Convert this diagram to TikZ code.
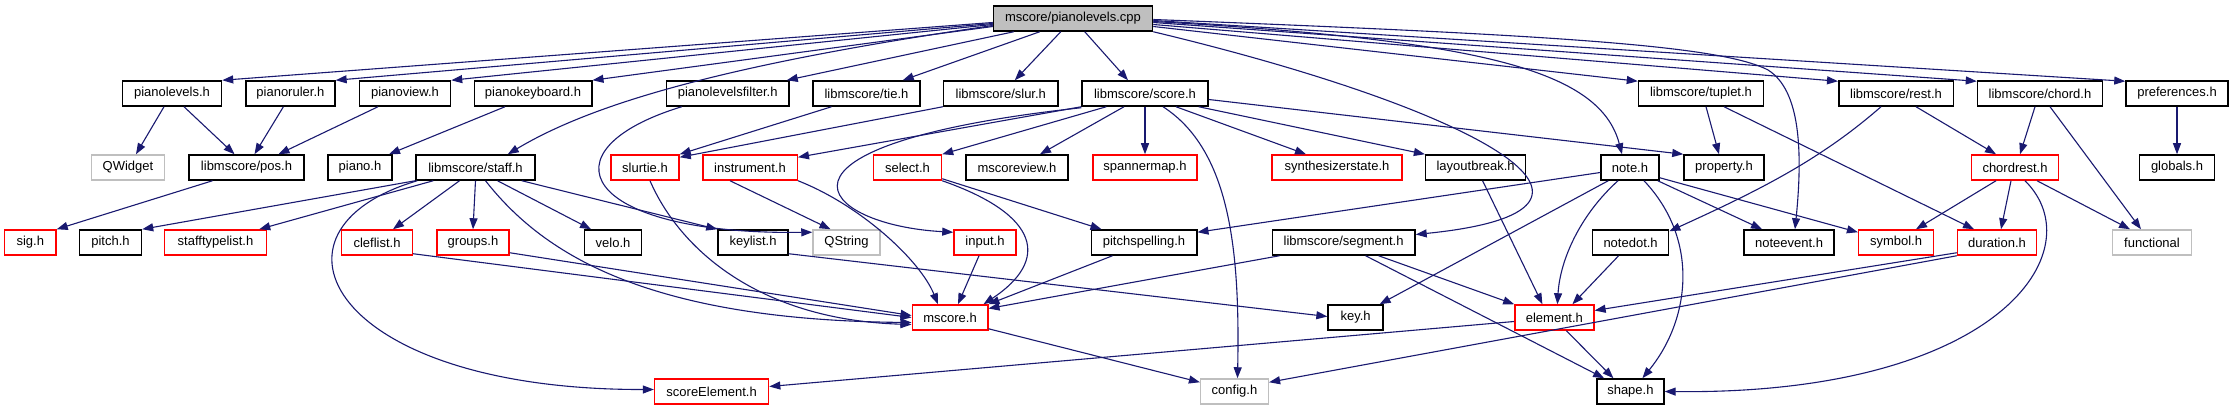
\documentclass[tikz,border=0pt]{standalone}
\usepackage{fontspec}
\setmainfont{Liberation Sans}
\usetikzlibrary{arrows.meta}
\definecolor{edgec}{HTML}{191970}
\definecolor{grayc}{HTML}{BFBFBF}
\definecolor{redc}{HTML}{FF0000}
\begin{document}
\begin{tikzpicture}[x=1pt,y=-1pt,
 box/.style={draw=black, line width=1.5pt, fill=white, minimum height=25pt, inner sep=0pt, font=\fontsize{13pt}{15pt}\selectfont, text=black},
 rbox/.style={box, draw=redc},
 gbox/.style={box, draw=grayc},
 rootbox/.style={box, fill=grayc},
 edg/.style={draw=edgec, line width=1.1pt, -{Triangle[length=11pt,width=8pt]}}]
\fill[white] (0,0) rectangle (2233,411);
\useasboundingbox (0,0) rectangle (2233,411);
% row 0
\node[rootbox, minimum width=159pt] (cpp) at (1073,18.5) {mscore/pianolevels.cpp};
% row 1
\node[box, minimum width=99pt] (plevels) at (172,93.5) {pianolevels.h};
\node[box, minimum width=89pt] (pruler) at (290.4,93.5) {pianoruler.h};
\node[box, minimum width=91pt] (pview) at (405,93.5) {pianoview.h};
\node[box, minimum width=117.5pt] (pkbd) at (533,93.5) {pianokeyboard.h};
\node[box, minimum width=122.6pt] (pfilter) at (727.7,93.5) {pianolevelsfilter.h};
\node[box, minimum width=107pt] (tie) at (866.5,93.5) {libmscore/tie.h};
\node[box, minimum width=114.4pt] (slur) at (1000.8,93.5) {libmscore/slur.h};
\node[box, minimum width=126pt] (score) at (1145,93.5) {libmscore/score.h};
\node[box, minimum width=125pt] (tuplet) at (1701,93.5) {libmscore/tuplet.h};
\node[box, minimum width=114.5pt] (rest) at (1896,93.5) {libmscore/rest.h};
\node[box, minimum width=125pt] (chord) at (2040,93.5) {libmscore/chord.h};
\node[box, minimum width=102pt] (prefs) at (2177,93.5) {preferences.h};
% row 2
\node[gbox, minimum width=73pt] (qwidget) at (128,167.5) {QWidget};
\node[box, minimum width=115pt] (pos) at (246.5,167.5) {libmscore/pos.h};
\node[box, minimum width=64pt] (piano) at (360,167.5) {piano.h};
\node[box, minimum width=119pt] (staff) at (475.5,167.5) {libmscore/staff.h};
\node[rbox, minimum width=68pt] (slurtie) at (645,167.5) {slurtie.h};
\node[rbox, minimum width=94.5pt] (instr) at (750,167.5) {instrument.h};
\node[rbox, minimum width=68pt] (select) at (907.5,167.5) {select.h};
\node[box, minimum width=102pt] (mview) at (1017,167.5) {mscoreview.h};
\node[rbox, minimum width=104pt] (spanner) at (1145,167.5) {spannermap.h};
\node[rbox, minimum width=130pt] (synth) at (1337,167.5) {synthesizerstate.h};
\node[box, minimum width=100pt] (layout) at (1475.6,167.5) {layoutbreak.h};
\node[box, minimum width=58pt] (note) at (1630,167.5) {note.h};
\node[box, minimum width=80pt] (property) at (1724,167.5) {property.h};
\node[rbox, minimum width=87pt] (chordrest) at (2015,167.5) {chordrest.h};
\node[box, minimum width=75pt] (globals) at (2177,167.5) {globals.h};
% row 3
\node[rbox, minimum width=51.4pt] (sig) at (30.3,242.5) {sig.h};
\node[box, minimum width=62pt] (pitch) at (110.5,242.5) {pitch.h};
\node[rbox, minimum width=102pt] (stl) at (215.5,242.5) {stafftypelist.h};
\node[rbox, minimum width=70.7pt] (clef) at (377,242.5) {cleflist.h};
\node[rbox, minimum width=72pt] (groups) at (473,242.5) {groups.h};
\node[box, minimum width=57pt] (velo) at (613,242.5) {velo.h};
\node[box, minimum width=70pt] (keylist) at (753,242.5) {keylist.h};
\node[gbox, minimum width=67pt] (qstring) at (846.5,242.5) {QString};
\node[rbox, minimum width=62pt] (input) at (985,242.5) {input.h};
\node[box, minimum width=105.5pt] (pspell) at (1144,242.5) {pitchspelling.h};
\node[box, minimum width=142.7pt] (segment) at (1343.6,242.5) {libmscore/segment.h};
\node[box, minimum width=76pt] (notedot) at (1630.6,242.5) {notedot.h};
\node[box, minimum width=90pt] (noteevent) at (1789,242.5) {noteevent.h};
\node[rbox, minimum width=74.7pt] (symbol) at (1896,242.5) {symbol.h};
\node[rbox, minimum width=79pt] (duration) at (1997,242.5) {duration.h};
\node[gbox, minimum width=79pt] (functional) at (2152,242.5) {functional};
% row 4
\node[rbox, minimum width=75.5pt] (mscore) at (950,317.5) {mscore.h};
\node[box, minimum width=55pt] (key) at (1355.6,317.5) {key.h};
\node[rbox, minimum width=79pt] (element) at (1554.4,317.5) {element.h};
% row 5
\node[rbox, minimum width=114pt] (scoreel) at (711.6,391.5) {scoreElement.h};
\node[gbox, minimum width=67.7pt] (config) at (1234.5,391.5) {config.h};
\node[box, minimum width=67pt] (shape) at (1630.4,391.5) {shape.h};

% edges from cpp
\draw[edg] ([yshift=-4pt]cpp.west) -- (plevels.north east);
\draw[edg] ([yshift=-5pt]cpp.west) -- (pruler.north east);
\draw[edg] ([yshift=-6pt]cpp.west) -- (pview.north east);
\draw[edg] ([yshift=-8pt]cpp.west) -- (pkbd.north east);
\draw[edg] ([yshift=-7pt]cpp.west) .. controls (720,65) and (590,105) .. ([xshift=-28pt]staff.north east);
\draw[edg] ([xshift=21pt]cpp.south west) -- ([xshift=-3pt]pfilter.north east);
\draw[edg] ([xshift=47pt]cpp.south west) -- ([xshift=-18pt]tie.north east);
\draw[edg] ([xshift=68pt]cpp.south west) -- ([xshift=14pt]slur.north);
\draw[edg] ([xshift=92pt]cpp.south west) -- ([xshift=-17pt]score.north);
\draw[edg] (cpp.south east) .. controls (1480,110) and (1660,210) .. ([yshift=8pt]segment.east);
\draw[edg] ([yshift=-3pt]cpp.east) .. controls (1480,40) and (1600,70) .. ([xshift=-8pt]note.north);
\draw[edg] ([yshift=-1pt]cpp.east) .. controls (1550,35) and (1720,45) .. (1768,70) .. controls (1800,90) and (1803,150) .. ([xshift=6pt]noteevent.north);
\draw[edg] ([yshift=-8pt]cpp.east) -- ([yshift=-1pt]tuplet.north west);
\draw[edg] ([yshift=-6pt]cpp.east) -- ([yshift=-1pt]rest.north west);
\draw[edg] ([yshift=-4pt]cpp.east) -- ([yshift=-1pt]chord.north west);
\draw[edg] ([yshift=-2pt]cpp.east) -- ([yshift=-1pt]prefs.north west);
% row 1 edges
\draw[edg] ([xshift=-8pt]plevels.south) -- ([xshift=8pt]qwidget.north);
\draw[edg] ([xshift=12pt]plevels.south) -- ([xshift=-12pt]pos.north);
\draw[edg] ([xshift=-7pt]pruler.south) -- ([xshift=8pt]pos.north);
\draw[edg] ([xshift=-27pt]pview.south) -- ([xshift=32pt]pos.north);
\draw[edg] ([xshift=-28pt]pkbd.south) -- ([xshift=29pt]piano.north);
\draw[edg] ([xshift=-34pt]pos.south) -- (sig.north east);
% staff
\draw[edg] (staff.south west) -- (pitch.north east);
\draw[edg] ([xshift=18pt]staff.south west) -- ([xshift=-8pt]stl.north east);
\draw[edg] ([xshift=-16pt]staff.south) -- ([xshift=16pt]clef.north);
\draw[edg] (staff.south) -- (groups.north);
\draw[edg] ([xshift=22pt]staff.south) -- ([xshift=-22pt]velo.north);
\draw[edg] ([xshift=-14pt]staff.south east) -- (keylist.north west);
\draw[edg] ([xshift=10pt]staff.south) .. controls (540,250) and (640,320) .. ([yshift=-5pt]mscore.west);
\draw[edg] ([xshift=2pt]staff.south west) .. controls (250,230) and (330,390) .. ([yshift=2pt]scoreel.west);
\draw[edg] ([yshift=2pt]clef.south east) -- (mscore.west);
\draw[edg] ([yshift=3pt]groups.south east) -- ([yshift=2pt]mscore.west);
% filter, tie, slur
\draw[edg] ([xshift=-46pt]pfilter.south) .. controls (540,150) and (580,235) .. ([yshift=-3pt]qstring.north west);
\draw[edg] ([xshift=-35pt]tie.south) -- (slurtie.north east);
\draw[edg] (slur.south west) -- ([yshift=-3pt]slurtie.north east);
\draw[edg] ([xshift=5pt]slurtie.south) .. controls (680,250) and (760,320) .. ([yshift=-7pt]mscore.west);
\draw[edg] ([xshift=-20pt]instr.south) -- ([xshift=-16pt]qstring.north);
\draw[edg] (instr.south east) .. controls (860,205) and (920,260) .. ([xshift=-12pt]mscore.north);
% score
\draw[edg] (score.south west) -- ([yshift=-3pt]instr.north east);
\draw[edg] ([yshift=-1pt]score.south west) .. controls (740,145) and (820,225) .. ([yshift=-3pt]input.north west);
\draw[edg] ([xshift=25pt]score.south west) -- (select.north east);
\draw[edg] ([xshift=-21pt]score.south) -- ([xshift=23pt]mview.north);
\draw[edg] (score.south) -- (spanner.north);
\draw[edg] ([xshift=18pt]score.south) .. controls (1230,150) and (1240,250) .. ([xshift=3pt]config.north);
\draw[edg] ([xshift=31pt]score.south) -- ([xshift=-31pt]synth.north);
\draw[edg] ([xshift=-10pt]score.south east) -- (layout.north west);
\draw[edg] ([yshift=-6pt]score.east) -- (property.north west);
% select, input, pitchspelling, segment
\draw[edg] (select.south east) .. controls (1040,215) and (1050,260) .. ([xshift=-5pt]mscore.north east);
\draw[edg] ([yshift=2pt]select.south east) -- ([xshift=11pt]pspell.north west);
\draw[edg] ([xshift=-6pt]input.south) -- ([xshift=8pt]mscore.north);
\draw[edg] ([xshift=22pt]pspell.south west) -- (mscore.north east);
\draw[edg] ([xshift=8pt]segment.south west) -- ([yshift=9pt]mscore.east);
\draw[edg] ([yshift=2pt]keylist.south east) -- ([yshift=1pt]key.west);
\draw[edg] ([yshift=2pt]mscore.south east) -- ([yshift=-4pt]config.north west);
\draw[edg] ([yshift=-4pt]element.west) -- ([yshift=5pt]scoreel.east);
\draw[edg] ([xshift=7pt]layout.south) -- ([xshift=-12pt]element.north);
% note
\draw[edg] ([yshift=-5pt]note.west) -- ([yshift=-3pt]pspell.north east);
\draw[edg] ([xshift=8pt]note.south west) -- ([xshift=24pt]key.north);
\draw[edg] ([xshift=-12pt]note.south) .. controls (1580,215) and (1560,260) .. ([xshift=3pt]element.north);
\draw[edg] ([xshift=14pt]note.south) .. controls (1700,240) and (1690,320) .. ([xshift=12pt]shape.north);
\draw[edg] ([xshift=-2pt]note.south east) -- ([xshift=-27pt]noteevent.north);
\draw[edg] ([yshift=3pt]note.south east) -- ([yshift=-3pt]symbol.north west);
\draw[edg] ([xshift=-12pt]notedot.south) -- ([xshift=18pt]element.north);
\draw[edg] ([xshift=35pt]segment.south) -- (element.north west);
\draw[edg] ([xshift=22pt]segment.south) -- ([xshift=8pt]shape.north west);
\draw[edg] ([xshift=12pt]element.south) -- ([xshift=-17pt]shape.north);
\draw[edg] ([yshift=3pt]duration.south west) -- ([yshift=7pt]element.east);
\draw[edg] (duration.south west) -- ([yshift=-4pt]config.north east);
% right part
\draw[edg] ([xshift=5pt]tuplet.south) -- ([xshift=-5pt]property.north);
\draw[edg] ([xshift=23pt]tuplet.south) -- ([xshift=-23pt]duration.north);
\draw[edg] ([xshift=-15pt]rest.south) .. controls (1820,160) and (1760,190) .. ([yshift=-2pt]notedot.north east);
\draw[edg] ([xshift=20pt]rest.south) -- ([xshift=-19pt]chordrest.north);
\draw[edg] ([xshift=-5pt]chord.south) -- ([xshift=5pt]chordrest.north);
\draw[edg] ([xshift=10pt]chord.south) -- ([xshift=-11pt]functional.north);
\draw[edg] ([xshift=-19pt]chordrest.south) -- ([xshift=20pt]symbol.north);
\draw[edg] ([xshift=-4pt]chordrest.south) -- ([xshift=4pt]duration.north);
\draw[edg] ([xshift=22pt]chordrest.south) -- ([xshift=-22pt]functional.north);
\draw[edg] ([xshift=10pt]chordrest.south) .. controls (2095,250) and (2000,395) .. (shape.east);
\draw[edg] (prefs.south) -- (globals.north);
\end{tikzpicture}
\end{document}
